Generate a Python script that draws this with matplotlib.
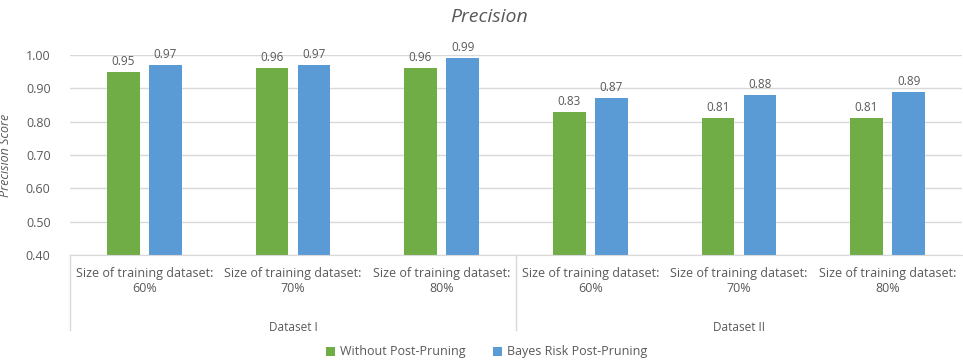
import numpy as np
import matplotlib.pyplot as plt
from matplotlib.transforms import blended_transform_factory

sizes = ["60%", "70%", "80%", "60%", "70%", "80%"]
datasets = ["Dataset I", "Dataset II"]
without_pruning = [0.95, 0.96, 0.96, 0.83, 0.81, 0.81]
bayes_pruning = [0.97, 0.97, 0.99, 0.87, 0.88, 0.89]

green = "#70AD47"
blue = "#5B9BD5"
grey_text = "#595959"
grid_grey = "#D9D9D9"

plt.rcParams["font.family"] = ["Open Sans", "DejaVu Sans"]

fig = plt.figure(figsize=(9.63, 3.64), dpi=100)
ax = fig.add_axes([70 / 963, 1 - 255 / 364, 892 / 963, 200 / 364])

x = np.arange(len(sizes))
w = 0.22
off = 0.142
b1 = ax.bar(x - off, [v - 0.4 for v in without_pruning], w, bottom=0.4,
            color=green, label="Without Post-Pruning", zorder=3)
b2 = ax.bar(x + off, [v - 0.4 for v in bayes_pruning], w, bottom=0.4,
            color=blue, label="Bayes Risk Post-Pruning", zorder=3)

for xi, v in zip(x, without_pruning):
    ax.text(xi - off, v + 0.012, f"{v:.2f}", ha="center", va="bottom",
            fontsize=8.5, color=grey_text)
for xi, v in zip(x, bayes_pruning):
    ax.text(xi + off, v + 0.012, f"{v:.2f}", ha="center", va="bottom",
            fontsize=8.5, color=grey_text)

ax.set_xlim(-0.5, len(sizes) - 0.5)
ax.set_ylim(0.4, 1.0)
ax.set_yticks(np.arange(0.4, 1.001, 0.1))
ax.set_yticklabels([f"{t:.2f}" for t in np.arange(0.4, 1.001, 0.1)])
ax.tick_params(axis="y", length=0, labelsize=9, colors=grey_text, pad=14)
ax.set_xticks([])
ax.grid(axis="y", color=grid_grey, linewidth=1, zorder=0)
for s in ["top", "right", "left"]:
    ax.spines[s].set_visible(False)
ax.spines["bottom"].set_color(grid_grey)
ax.spines["bottom"].set_zorder(4)

ax.set_ylabel("Precision Score", fontsize=9, style="italic", color=grey_text,
              labelpad=10)
fig.text(489 / 963, 1 - 17 / 364, "Precision", fontsize=14, style="italic",
         color=grey_text, ha="center", va="center")

# two-level category axis below the plot
tr = blended_transform_factory(ax.transData, ax.transAxes)
for xi, s in zip(x, sizes):
    ax.text(xi, -0.06, f"Size of training dataset:\n{s}", transform=tr,
            ha="center", va="top", fontsize=9, color=grey_text,
            linespacing=1.2)
for i, name in enumerate(datasets):
    ax.text(1 + 3 * i, -0.33, name, transform=tr, ha="center", va="top",
            fontsize=8.5, color=grey_text)
for xs in [-0.5, 2.5]:
    ax.plot([xs, xs], [0, -0.375], transform=tr, color=grid_grey,
            linewidth=1, clip_on=False)

fig.legend(handles=[b1, b2], loc="center", bbox_to_anchor=(0.505, 1 - 352 / 364),
           ncol=2, frameon=False, fontsize=9, handlelength=0.7,
           handleheight=0.7, columnspacing=2.2, handletextpad=0.4,
           labelcolor=grey_text)

fig.savefig("out.png", dpi=100)
